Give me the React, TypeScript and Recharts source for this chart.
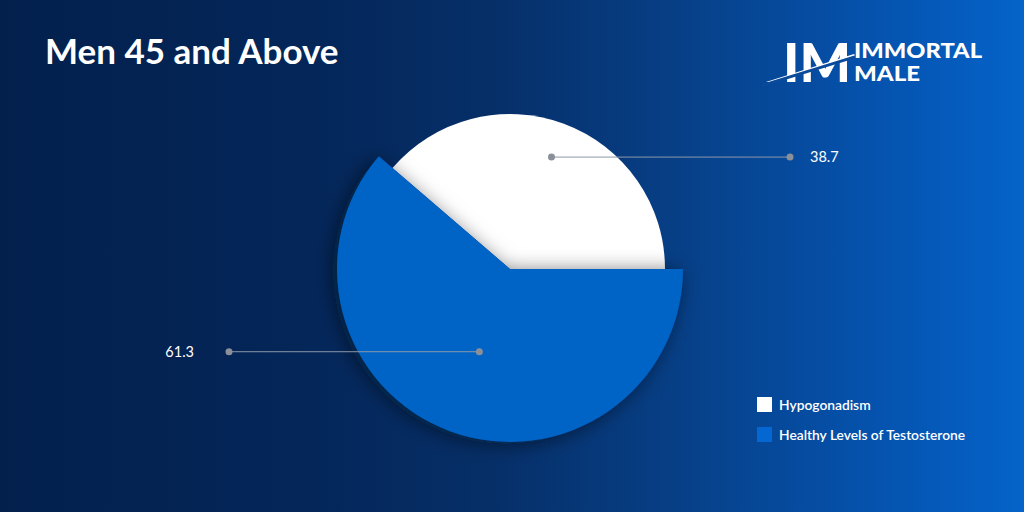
import React from 'react';
import { PieChart, Pie, Cell } from 'recharts';

const categories = ['Hypogonadism', 'Healthy Levels of Testosterone'];
const values = [38.7, 61.3];
const sliceColors = ['#ffffff', '#0563c6'];
const valueLabels = ['38.7', '61.3'];

const data = categories.map((name, i) => ({ name, value: values[i] }));

const RAD = Math.PI / 180;
const FONT = "Lato, 'Open Sans', sans-serif";

const makeLabel = (which: number, lineX: number, textX: number, anchor: 'start' | 'end', rFrac: number) =>
  (props: any) => {
    const { cx, cy, midAngle, outerRadius, index } = props;
    if (index !== which) return null;
    const r = outerRadius * rFrac;
    const x = cx + r * Math.cos(-midAngle * RAD);
    const y = cy + r * Math.sin(-midAngle * RAD);
    return (
      <g key={`lbl-${which}`}>
        <line x1={x} y1={y} x2={lineX} y2={y} stroke="#8d98aa" strokeWidth={1} />
        <circle cx={x} cy={y} r={3.5} fill="#8a8f98" />
        <circle cx={lineX} cy={y} r={3.5} fill="#8a8f98" />
        <text x={textX} y={y} dy={5} fill="#ffffff" fontSize={14.5} fontFamily={FONT} textAnchor={anchor}>
          {valueLabels[which]}
        </text>
      </g>
    );
  };

export default function App() {
  return (
    <div
      style={{
        position: 'absolute',
        left: 0,
        top: 0,
        width: 1024,
        height: 512,
        overflow: 'hidden',
        background:
          'linear-gradient(90deg, #03204d 0%, #042659 30%, #062f68 48%, #073f86 66%, #0552ad 85%, #0563c9 100%)',
      }}
    >
      <svg width={0} height={0} style={{ position: 'absolute' }}>
        <defs>
          <filter id="pieShadow" x="-30%" y="-30%" width="160%" height="160%">
            <feDropShadow dx={-4} dy={2} stdDeviation={10} floodColor="#000814" floodOpacity={0.55} />
          </filter>
        </defs>
      </svg>
      <div
        style={{
          position: 'absolute',
          left: 45,
          top: 30,
          fontFamily: FONT,
          fontWeight: 700,
          fontSize: 35,
          color: '#ffffff',
          lineHeight: '40px',
          whiteSpace: 'nowrap',
        }}
      >
        Men 45 and Above
      </div>
      <svg width={240} height={70} style={{ position: 'absolute', left: 760, top: 28 }}>
        <text x={23} y={54} fill="#fff" fontFamily={FONT} fontWeight={900} fontSize={54} textLength={68} lengthAdjust="spacingAndGlyphs">
          IM
        </text>
        <polygon points="6,54 94,26 96,29 10,54" fill="#fff" />
        <polygon points="2,56 96,27 96,30 2,59" fill="#0a4a9a" />
        <text x={94} y={30} fill="#fff" fontFamily={FONT} fontWeight={900} fontSize={21} textLength={128} lengthAdjust="spacingAndGlyphs">
          IMMORTAL
        </text>
        <text x={94} y={53} fill="#fff" fontFamily={FONT} fontWeight={900} fontSize={21} textLength={66} lengthAdjust="spacingAndGlyphs">
          MALE
        </text>
      </svg>
      <div style={{ position: 'absolute', left: 0, top: 0 }}>
        <PieChart width={1024} height={512} margin={{ top: 0, right: 0, bottom: 0, left: 0 }}>
          <Pie
            data={data}
            dataKey="value"
            nameKey="name"
            cx={510}
            cy={269}
            outerRadius={155}
            startAngle={0}
            endAngle={360}
            stroke="none"
            isAnimationActive={false}
            labelLine={false}
            label={makeLabel(0, 790, 810, 'start', 0.77)}
            legendType="none"
          >
            {data.map((d, i) => (
              <Cell key={d.name} fill={i === 0 ? sliceColors[0] : 'transparent'} />
            ))}
          </Pie>
          <Pie
            data={data}
            dataKey="value"
            nameKey="name"
            cx={510}
            cy={269}
            outerRadius={173}
            startAngle={0}
            endAngle={360}
            stroke="none"
            isAnimationActive={false}
            labelLine={false}
            label={makeLabel(1, 229, 194, 'end', 0.51)}
            legendType="none"
          >
            {data.map((d, i) => (
              <Cell
                key={d.name}
                fill={i === 1 ? sliceColors[1] : 'transparent'}
                style={i === 1 ? { filter: 'url(#pieShadow)' } : undefined}
              />
            ))}
          </Pie>
        </PieChart>
      </div>
      <div
        style={{
          position: 'absolute',
          left: 757,
          top: 396,
          fontFamily: FONT,
          fontSize: 13.8,
          fontWeight: 600,
          color: '#fff',
        }}
      >
        {categories.map((c, i) => (
          <div key={c} style={{ display: 'flex', alignItems: 'center', height: 16, marginBottom: i === 0 ? 14 : 0 }}>
            <div style={{ width: 15, height: 15, background: i === 1 ? '#0567d2' : sliceColors[i], marginRight: 7 }} />
            <span style={{ whiteSpace: 'nowrap' }}>{c}</span>
          </div>
        ))}
      </div>
    </div>
  );
}
